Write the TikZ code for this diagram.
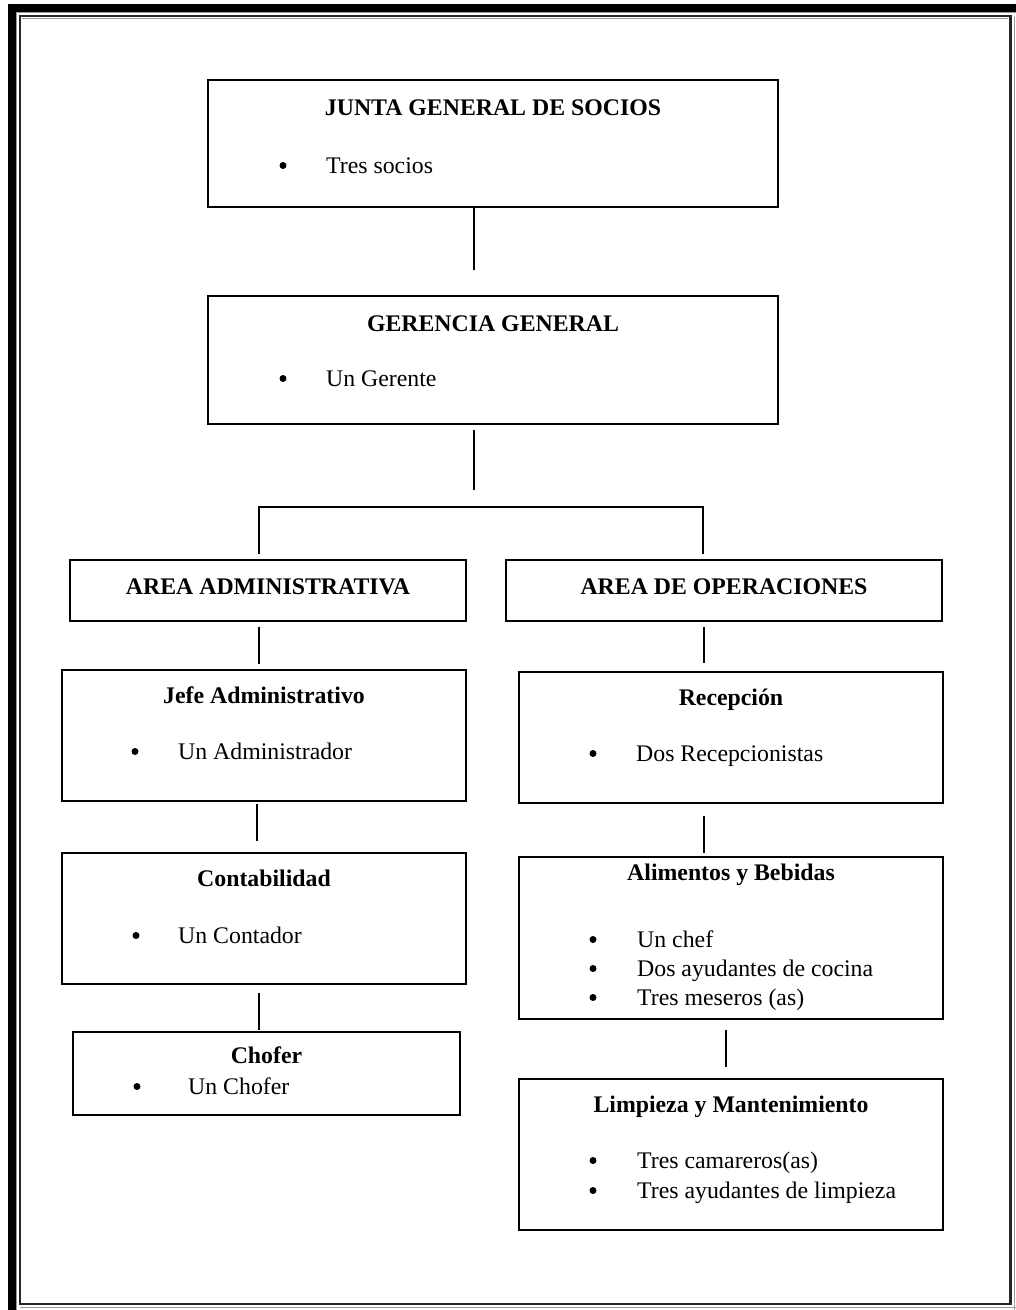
\documentclass[tikz,border=0pt]{standalone}
\usepackage{fontspec}
\setmainfont{Liberation Serif}
\begin{document}
\begin{tikzpicture}[x=1pt,y=-1pt,
  box/.style={draw=black, line width=2pt, inner sep=0pt},
  ttl/.style={font=\fontsize{23.8}{27}\selectfont\bfseries, anchor=base, inner sep=0pt},
  itm/.style={font=\fontsize{23.8}{27}\selectfont, anchor=base west, inner sep=0pt},
  bul/.style={circle, fill=black, inner sep=0pt, minimum size=7pt, yshift=7.5pt},
  conn/.style={line width=2pt},
  frm/.style={line width=2.4pt, draw=black!85}]
\useasboundingbox (0,0) rectangle (1016,1310);
% page border
\fill[black] (8,4) rectangle (1016,12);
\fill[black] (8,4) rectangle (16,1310);
\draw[black!40, line width=1pt] (16.5,12) -- (16.5,1310);
\draw[black!40, line width=1pt] (16,12.8) -- (1016,12.8);
\draw[frm] (20,16) rectangle (1010.5,1304);
\draw[black!40, line width=1pt] (22,18) -- (1008,18);
\draw[black!40, line width=1.2pt] (1014.8,16) -- (1014.8,1310);
\draw[black!40, line width=1.2pt] (20,1307.8) -- (1016,1307.8);

% boxes
\node[box, minimum width=570pt, minimum height=127pt] (junta) at (493,143.5) {};
\node[box, minimum width=570pt, minimum height=128pt] (ger) at (493,360) {};
\node[box, minimum width=396pt, minimum height=61pt] (adm) at (268,590.5) {};
\node[box, minimum width=436pt, minimum height=61pt] (ope) at (724,590.5) {};
\node[box, minimum width=404pt, minimum height=131pt] (jefe) at (264,735.5) {};
\node[box, minimum width=404pt, minimum height=131pt] (cont) at (264,918.5) {};
\node[box, minimum width=387pt, minimum height=83pt] (chof) at (266.5,1073.5) {};
\node[box, minimum width=424pt, minimum height=131pt] (rec) at (731,737.5) {};
\node[box, minimum width=424pt, minimum height=162pt] (ali) at (731,938) {};
\node[box, minimum width=424pt, minimum height=151pt] (lim) at (731,1154.5) {};

% texts
\node[ttl] (t1) at (493,115) {JUNTA GENERAL DE SOCIOS};
\node[bul] (b1) at (283,173) {};
\node[itm] (i1) at (326,173) {Tres socios};

\node[ttl] (t2) at (493,331) {GERENCIA GENERAL};
\node[bul] (b2) at (283,386) {};
\node[itm] (i2) at (326,386) {Un Gerente};

\node[ttl] (t3) at (268,594) {AREA ADMINISTRATIVA};
\node[ttl] (t4) at (724,594) {AREA DE OPERACIONES};

\node[ttl] (t5) at (264,703) {Jefe Administrativo};
\node[bul] (b5) at (135,759) {};
\node[itm] (i5) at (178,759) {Un Administrador};

\node[ttl] (t6) at (264,886) {Contabilidad};
\node[bul] (b6) at (136,943) {};
\node[itm] (i6) at (178,943) {Un Contador};

\node[ttl] (t7) at (266.5,1063) {Chofer};
\node[bul] (b7) at (137,1094) {};
\node[itm] (i7) at (188,1094) {Un Chofer};

\node[ttl] (t8) at (731,705) {Recepción};
\node[bul] (b8) at (593,761) {};
\node[itm] (i8) at (636,761) {Dos Recepcionistas};

\node[ttl] (t9) at (731,880) {Alimentos y Bebidas};
\node[bul] (b9a) at (593,947) {};
\node[itm] (i9a) at (637,947) {Un chef};
\node[bul] (b9b) at (593,976) {};
\node[itm] (i9b) at (637,976) {Dos ayudantes de cocina};
\node[bul] (b9c) at (593,1005) {};
\node[itm] (i9c) at (637,1005) {Tres meseros (as)};

\node[ttl] (t10) at (731,1112) {Limpieza y Mantenimiento};
\node[bul] (b10a) at (593,1168) {};
\node[itm] (i10a) at (637,1168) {Tres camareros(as)};
\node[bul] (b10b) at (593,1198) {};
\node[itm] (i10b) at (637,1198) {Tres ayudantes de limpieza};

% connector end points
\coordinate (c1) at (474,270);
\coordinate (c2a) at (474,430);
\coordinate (c2b) at (474,490);
\coordinate (hl) at (259,507);
\coordinate (hr) at (703,507);
\coordinate (vl) at (259,554);
\coordinate (vr) at (703,554);
\coordinate (c3a) at (259,627);
\coordinate (c3b) at (259,664);
\coordinate (c4a) at (257,804);
\coordinate (c4b) at (257,841);
\coordinate (c5a) at (259,993);
\coordinate (c5b) at (259,1030);
\coordinate (c6a) at (704,627);
\coordinate (c6b) at (704,663);
\coordinate (c7a) at (704,816);
\coordinate (c7b) at (704,853);
\coordinate (c8a) at (726,1030);
\coordinate (c8b) at (726,1067);

% connectors
\draw[conn] (junta.south -| c1) -- (c1);
\draw[conn] (c2a) -- (c2b);
\draw[conn] (vl) -- (hl) -- (hr) -- (vr);
\draw[conn] (c3a) -- (c3b);
\draw[conn] (c4a) -- (c4b);
\draw[conn] (c5a) -- (c5b);
\draw[conn] (c6a) -- (c6b);
\draw[conn] (c7a) -- (c7b);
\draw[conn] (c8a) -- (c8b);
\end{tikzpicture}
\end{document}
